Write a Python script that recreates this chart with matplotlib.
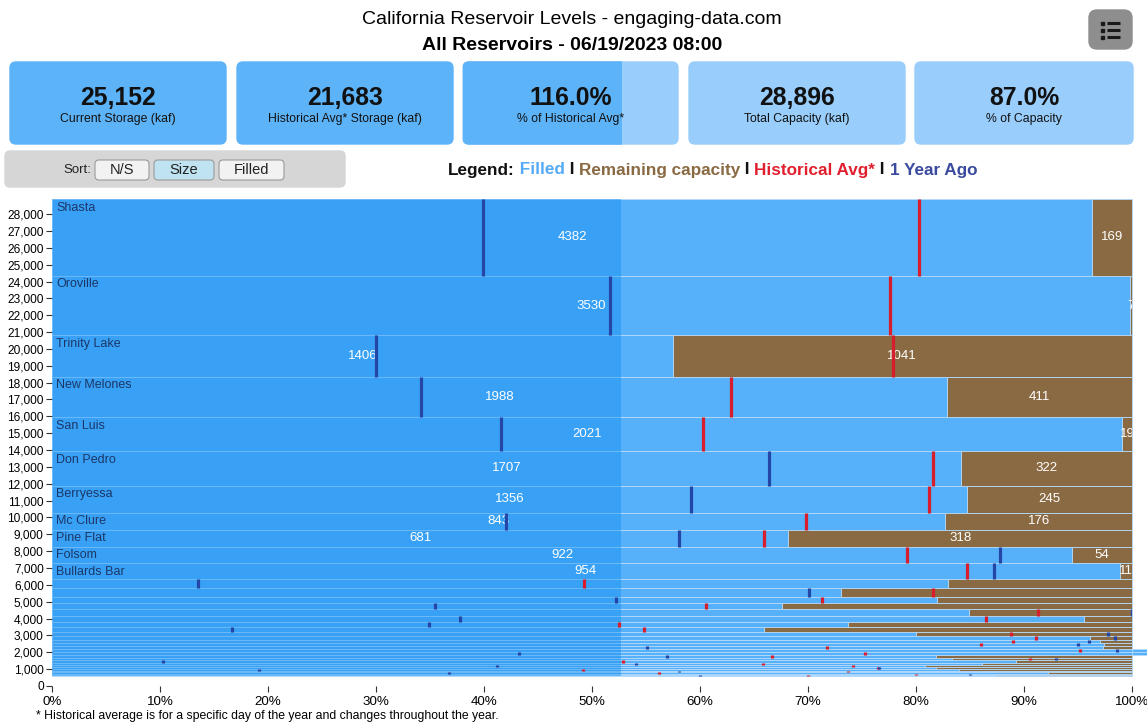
import numpy as np
import matplotlib.pyplot as plt
from matplotlib.patches import FancyBboxPatch, Rectangle

plt.rcParams['font.family'] = ['Liberation Sans', 'DejaVu Sans']

W, H = 1147, 724

# reservoirs, sorted by size (kaf)
names = ["Shasta", "Oroville", "Trinity Lake", "New Melones", "San Luis", "Don Pedro",
         "Berryessa", "Mc Clure", "Pine Flat", "Folsom", "Bullards Bar"] + [""] * 26
capacity = [4551, 3537, 2447, 2399, 2040, 2029, 1601, 1019, 999, 976, 965,
            540, 520, 360, 355, 410, 340, 300, 285, 250, 230, 200, 190, 185, 175,
            165, 160, 150, 140, 130, 120, 110, 100, 95, 90, 85, 80]
storage = [4382, 3530, 1406, 1988, 2021, 1707, 1356, 843, 681, 922, 954,
           448, 380, 295, 240, 348, 325, 221, 188, 200, 221, 194, 185, 180, 182,
           169, 131, 125, 125, 112, 97, 90, 84, 83, 83, 83, 70]
hist_pct = [80.3, 77.6, 77.9, 62.9, 60.3, 81.6, 81.2, 69.8, 65.9, 79.2, 84.7,
            49.3, 81.6, 71.3, 60.6, 91.3, 86.5, 52.5, 54.8, 88.8, 91.1, 89.0, 86.0, 71.8, 95.2,
            75.3, 66.7, 90.6, 52.9, 65.8, 74.2, 76.5, 49.2, 73.7, 56.2, 80.0, 70.0]
ago_pct = [39.9, 51.7, 30.0, 34.2, 41.6, 66.4, 59.2, 42.0, 58.1, 87.8, 87.2,
           13.5, 70.1, 52.2, 35.5, 100.0, 37.8, 34.9, 16.7, 97.8, 98.4, 96.0, 95.0, 55.1, 98.6,
           43.2, 56.9, 93.0, 10.3, 54.1, 41.2, 76.6, 19.2, 58.1, 36.8, 85.0, 60.0]
total_capacity = 28896

card_values = ["25,152", "21,683", "116.0%", "28,896", "87.0%"]
card_labels = ["Current Storage (kaf)", "Historical Avg* Storage (kaf)", "% of Historical Avg*",
               "Total Capacity (kaf)", "% of Capacity"]

fill_col = '#57b0fa'
brown = '#8a6a43'
red = '#d81e2c'
navy = '#2446a6'

fig = plt.figure(figsize=(W / 100, H / 100), dpi=100)

# background layer in pixel coordinates
bg = fig.add_axes([0, 0, 1, 1])
bg.set_xlim(0, W)
bg.set_ylim(H, 0)
bg.axis('off')

bg.text(572, 20, "California Reservoir Levels - engaging-data.com", ha='center', va='center', fontsize=14)
bg.text(572, 45, "All Reservoirs - 06/19/2023 08:00", ha='center', va='center', fontsize=14, fontweight='bold')

# menu button
bg.add_patch(FancyBboxPatch((1089, 10), 43, 39, boxstyle="round,pad=0,rounding_size=8", color='#8e8e8e'))
for yy in [23, 30, 37]:
    bg.add_patch(Rectangle((1101, yy - 1.5), 3, 3, color='#1a1a1a'))
    bg.plot([1107, 1120], [yy, yy], color='#1a1a1a', lw=2.2, solid_capstyle='butt')

# summary cards
card_x = [(10, 226), (237, 453), (463, 678), (689, 905), (915, 1133)]
for i, (x0, x1) in enumerate(card_x):
    col = '#5db3f8' if i < 2 else '#99cdfb'
    if i == 2:
        bg.add_patch(FancyBboxPatch((x0, 62), x1 - x0, 82, boxstyle="round,pad=0,rounding_size=6", color='#99cdfb'))
        p = FancyBboxPatch((x0, 62), x1 - x0, 82, boxstyle="round,pad=0,rounding_size=6", color='#5db3f8')
        bg.add_patch(p)
        clip = Rectangle((x0, 60), 622 - x0, 90, transform=bg.transData)
        p.set_clip_path(clip)
    else:
        bg.add_patch(FancyBboxPatch((x0, 62), x1 - x0, 82, boxstyle="round,pad=0,rounding_size=6", color=col))
    cx = (x0 + x1) / 2
    bg.text(cx, 98, card_values[i], ha='center', va='center', fontsize=17.8, fontweight='bold', color='#111111')
    bg.text(cx, 119, card_labels[i], ha='center', va='center', fontsize=8.8, color='#111111')

# sort box
bg.add_patch(FancyBboxPatch((5, 151), 340, 36, boxstyle="round,pad=0,rounding_size=5", color='#d6d6d6'))
bg.text(77, 170, "Sort:", ha='center', va='center', fontsize=9.5, color='#222222')
for (x0, x1), lab, fc in [((95, 149), "N/S", '#f2f2f2'), ((154, 214), "Size", '#bfe3f0'), ((219, 284), "Filled", '#f2f2f2')]:
    bg.add_patch(FancyBboxPatch((x0, 160), x1 - x0, 20, boxstyle="round,pad=0,rounding_size=4",
                                facecolor=fc, edgecolor='#9a9a9a', lw=0.8))
    bg.text((x0 + x1) / 2, 170, lab, ha='center', va='center', fontsize=10.5, color='#222222')

# legend line
fig.canvas.draw()
rend = fig.canvas.get_renderer()
pieces = [("Legend:", '#111111'), (" Filled", '#55aaf5'), (" I ", '#111111'),
          ("Remaining capacity", brown), (" I ", '#111111'), ("Historical Avg*", '#e0202e'),
          (" I ", '#111111'), ("1 Year Ago", '#3a4a9e')]
lx = 448
for s, c in pieces:
    t = bg.text(lx, 170, s, ha='left', va='center', fontsize=12.3, fontweight='bold', color=c)
    lx += t.get_window_extent(renderer=rend).width

bg.text(36, 716, "* Historical average is for a specific day of the year and changes throughout the year.",
        ha='left', va='center', fontsize=8.8)

# main chart
ax = fig.add_axes([52 / W, 1 - 686 / H, 1080 / W, 487 / H])
ax.set_xlim(0, 100)
ax.set_ylim(0, total_capacity)

cap = np.array(capacity, dtype=float)
sto = np.array(storage, dtype=float)
pct = sto / cap * 100
tops = total_capacity - np.concatenate([[0], np.cumsum(cap)[:-1]])
bottoms = tops - cap

ax.barh(bottoms, pct, height=cap, left=0, align='edge', color=fill_col,
        edgecolor='#b5dafb', linewidth=0.6, clip_on=False, zorder=1)
rem = np.clip(100 - pct, 0, None)
ax.barh(bottoms, rem, height=cap, left=np.minimum(pct, 100), align='edge', color=brown,
        edgecolor='#b5dafb', linewidth=0.6, clip_on=False, zorder=1)

# darker band on the left part
ax.add_patch(Rectangle((0, bottoms[-1]), 52.7, total_capacity - bottoms[-1],
                       color='#0a8bf2', alpha=0.4, lw=0, zorder=2))

mids = (tops + bottoms) / 2
for i, name in enumerate(names):
    if not name:
        continue
    ax.annotate(name, (0, tops[i]), xytext=(3, -2), textcoords='offset points',
                ha='left', va='top', fontsize=9, color='#1b3768', zorder=3)
    ax.text(pct[i] / 2, mids[i], f"{int(storage[i])}", ha='center', va='center',
            fontsize=9.5, color='white', zorder=3, clip_on=True)
    ax.text((pct[i] + 100) / 2, mids[i], f"{int(capacity[i] - storage[i])}", ha='center', va='center',
            fontsize=9.5, color='white', zorder=3, clip_on=True)

ax.vlines(hist_pct, bottoms, tops, colors=red, lw=2.3, zorder=4)
ax.vlines(ago_pct, bottoms, tops, colors=navy, lw=2.3, zorder=4)

ax.set_yticks(range(0, 28001, 1000))
ax.set_yticklabels([f"{v:,}" for v in range(0, 28001, 1000)])
ax.set_xticks(range(0, 101, 10))
ax.set_xticklabels([f"{v}%" for v in range(0, 101, 10)])
ax.tick_params(axis='y', length=4, width=0.8, labelsize=8.6, pad=2, color='#333333')
ax.tick_params(axis='x', length=4, width=0.8, labelsize=9.6, pad=3, color='#333333')
for s in ax.spines.values():
    s.set_visible(False)
ax.set_facecolor('none')

fig.savefig("out.png", dpi=100)
